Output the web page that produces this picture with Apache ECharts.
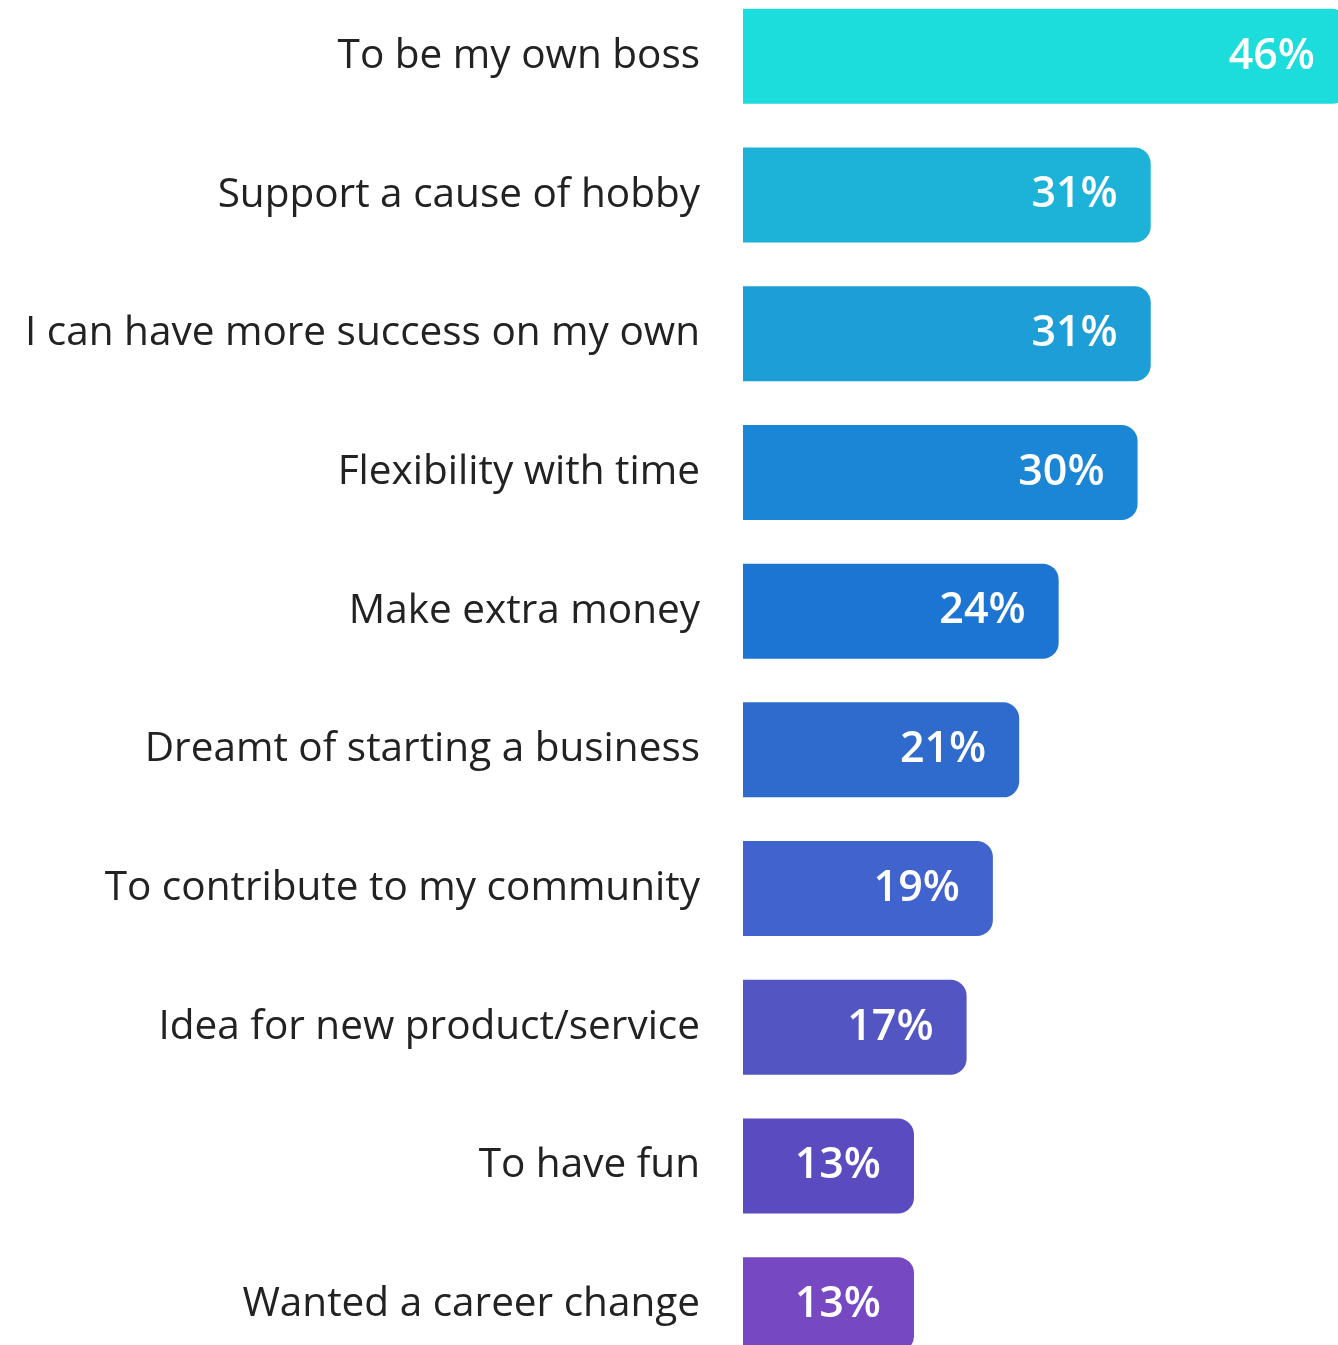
<!DOCTYPE html>
<html>
<head>
<meta charset="utf-8">
<title>Reasons for starting a business</title>
<script src="https://cdn.jsdelivr.net/npm/echarts@6/dist/echarts.min.js"></script>
<style>
  html, body { margin: 0; padding: 0; background: #ffffff; }
  #chart { width: 1338px; height: 1345px; }
</style>
</head>
<body>
<div id="chart"></div>
<script>
// Survey answers, top to bottom
const categories = [
  'To be my own boss',
  'Support a cause of hobby',
  'I can have more success on my own',
  'Flexibility with time',
  'Make extra money',
  'Dreamt of starting a business',
  'To contribute to my community',
  'Idea for new product/service',
  'To have fun',
  'Wanted a career change'
];

// Share of respondents, percent
const shares = [46, 31, 31, 30, 24, 21, 19, 17, 13, 13];

// Bar fills, cyan through to violet
const barColors = [
  '#1cdcdc', '#1db3d9', '#1d9ed6', '#1b86d5', '#1c75d2',
  '#2f6bcd', '#4163cd', '#5355c2', '#5a4bc0', '#7649c3'
];

const chart = echarts.init(document.getElementById('chart'), null, { renderer: 'canvas' });

chart.setOption({
  animation: false,
  grid: {
    left: 743,
    top: -13,
    width: 605,
    height: 1387,
    outerBoundsMode: 'none',
    containLabel: false
  },
  xAxis: {
    type: 'value',
    min: 0,
    max: 46,
    show: false
  },
  yAxis: {
    type: 'category',
    data: categories,
    inverse: true,
    axisLine: { show: false },
    axisTick: { show: false },
    splitLine: { show: false },
    axisLabel: {
      margin: 43,
      color: '#222222',
      fontFamily: 'Open Sans',
      fontSize: 40.5,
      fontWeight: 500
    }
  },
  series: [{
    type: 'bar',
    barWidth: 95,
    data: shares.map((v, i) => ({
      value: v,
      itemStyle: { color: barColors[i] }
    })),
    itemStyle: { borderRadius: [0, 16, 16, 0] },
    label: {
      show: true,
      position: 'insideRight',
      distance: 33,
      formatter: p => p.value + '%',
      color: '#ffffff',
      fontFamily: 'Open Sans',
      fontSize: 43,
      fontWeight: 600
    }
  }]
});
</script>
</body>
</html>
